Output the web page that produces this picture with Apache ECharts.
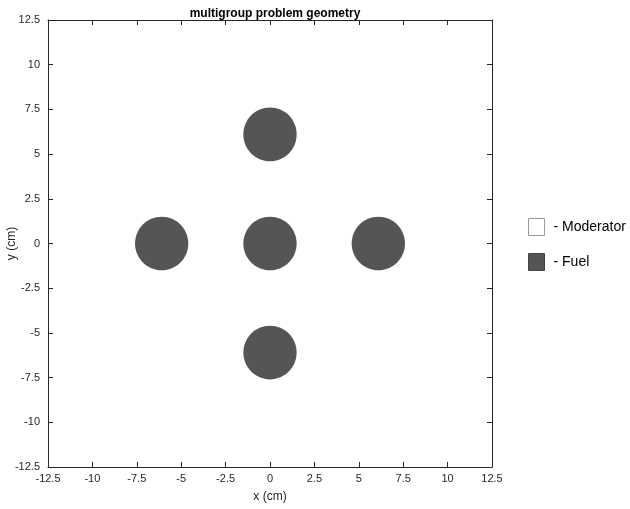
<!DOCTYPE html>
<html>
<head>
<meta charset="utf-8">
<script src="https://cdn.jsdelivr.net/npm/echarts@6/dist/echarts.min.js"></script>
<style>
  html, body { margin: 0; padding: 0; background: #fff; }
  #chart { width: 630px; height: 509px; }
</style>
</head>
<body>
<div id="chart"></div>
<script>
// Fuel pin centres (cm) and pin radius (cm)
const fuelX = [0, -6.1, 0, 6.1, 0];
const fuelY = [6.1, 0, 0, 0, -6.1];
const fuelRadius = [1.5, 1.5, 1.5, 1.5, 1.5];

const axisMin = -12.5, axisMax = 12.5, axisStep = 2.5;
const materials = ['- Moderator', '- Fuel'];

const textColor = '#262626';
const fuelColor = '#555555';

const chart = echarts.init(document.getElementById('chart'));

const pins = fuelX.map((x, i) => [x, fuelY[i], fuelRadius[i]]);

const tickAxis = {
  min: axisMin, max: axisMax, interval: axisStep,
  axisLine: { show: true, onZero: false, lineStyle: { color: '#262626', width: 1 } },
  axisTick: { show: true, inside: true, length: 5, lineStyle: { color: '#262626' } },
  splitLine: { show: false }
};

chart.setOption({
  animation: false,
  backgroundColor: '#ffffff',
  title: {
    text: 'multigroup problem geometry',
    left: 270, top: 3, textAlign: 'center',
    textStyle: { fontFamily: 'Liberation Sans, Arial', fontSize: 12, fontWeight: 'bold', color: '#000' }
  },
  grid: { left: 48, top: 20, width: 444, height: 447, containLabel: false, outerBoundsMode: 'none' },
  legend: {
    orient: 'vertical', left: 528, top: 218, padding: 0,
    itemWidth: 16, itemHeight: 17, itemGap: 17,
    icon: 'rect',
    textStyle: { fontFamily: 'Liberation Sans, Arial', fontSize: 14, color: '#000', padding: [0, 0, 0, 4] },
    data: [
      { name: materials[0], itemStyle: { color: '#ffffff', borderColor: '#9a9a9a', borderWidth: 1 } },
      { name: materials[1], itemStyle: { color: fuelColor, borderColor: '#444444', borderWidth: 1 } }
    ]
  },
  xAxis: [
    Object.assign({ type: 'value', position: 'bottom',
      name: 'x (cm)', nameLocation: 'middle', nameGap: 24, nameMoveOverlap: false,
      nameTextStyle: { fontFamily: 'Liberation Sans, Arial', fontSize: 12, color: textColor },
      axisLabel: { fontFamily: 'Liberation Sans, Arial', fontSize: 11, color: textColor, margin: 6 }
    }, tickAxis),
    Object.assign({ type: 'value', position: 'top', axisLabel: { show: false } }, tickAxis)
  ],
  yAxis: [
    Object.assign({ type: 'value', position: 'left',
      name: 'y (cm)', nameLocation: 'middle', nameGap: 30, nameMoveOverlap: false,
      nameTextStyle: { fontFamily: 'Liberation Sans, Arial', fontSize: 12, color: textColor },
      axisLabel: { fontFamily: 'Liberation Sans, Arial', fontSize: 11, color: textColor, margin: 8 }
    }, tickAxis),
    Object.assign({ type: 'value', position: 'right', axisLabel: { show: false } }, tickAxis)
  ],
  series: [
    {
      name: materials[0],
      type: 'custom',
      data: [],
      renderItem: () => null
    },
    {
      name: materials[1],
      type: 'custom',
      data: pins,
      renderItem: function (params, api) {
        const c = api.coord([api.value(0), api.value(1)]);
        const r = api.size([api.value(2), api.value(2)]);
        return {
          type: 'ellipse',
          shape: { cx: c[0], cy: c[1], rx: r[0], ry: r[1] },
          style: { fill: fuelColor }
        };
      }
    }
  ]
});
</script>
</body>
</html>
